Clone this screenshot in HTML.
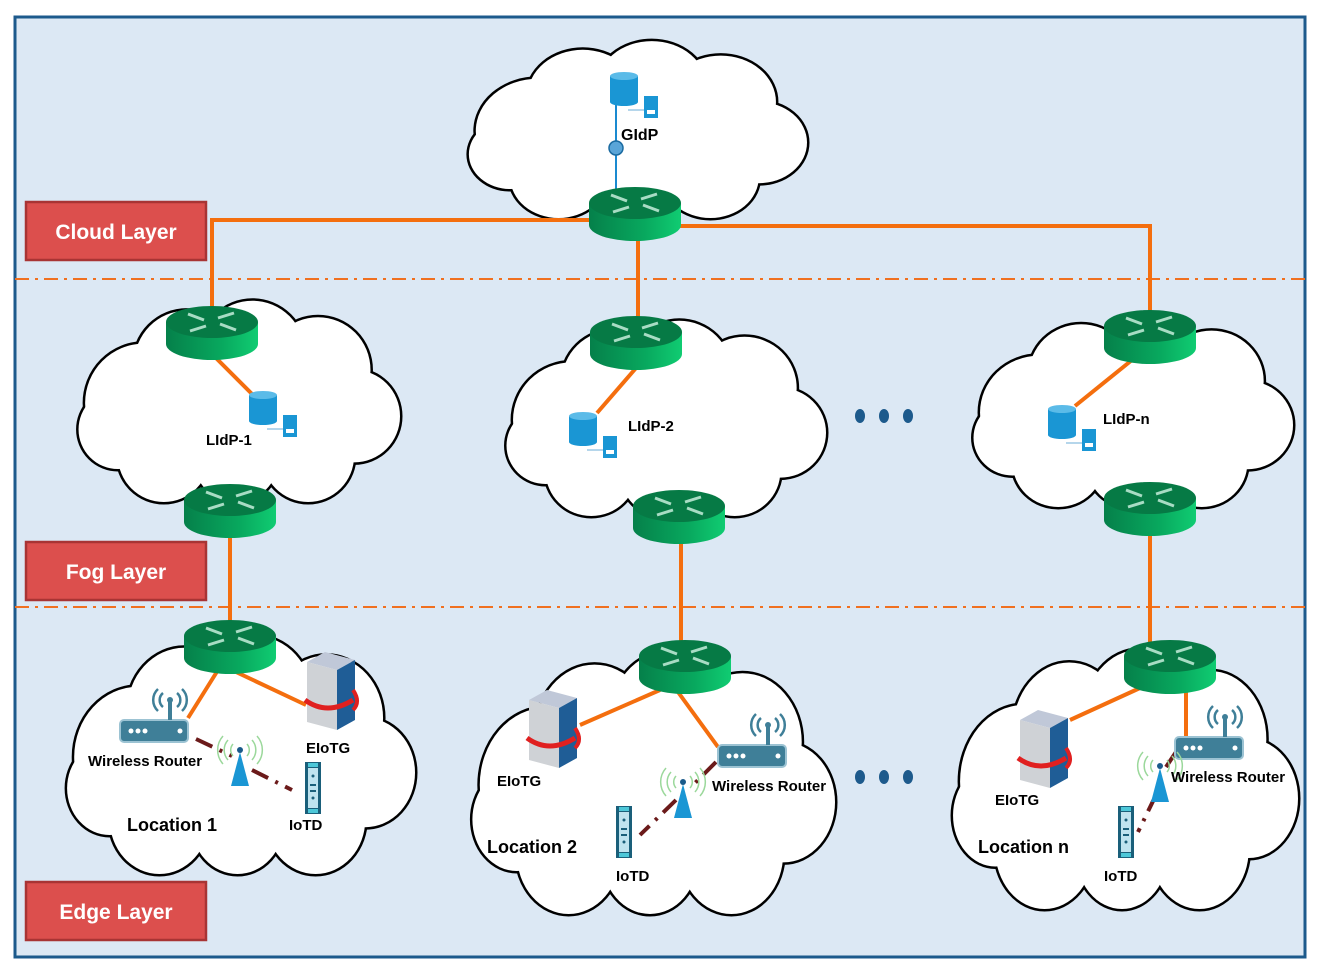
<!DOCTYPE html>
<html><head><meta charset="utf-8"><style>
html,body{margin:0;padding:0;background:#fff;}
svg{display:block;}
text{font-family:"Liberation Sans",sans-serif;font-weight:bold;}
</style></head><body>
<svg width="1319" height="972" viewBox="0 0 1319 972" xmlns="http://www.w3.org/2000/svg">
<defs>
<linearGradient id="rg" x1="0" x2="1" y1="0" y2="0"><stop offset="0" stop-color="#05804a"/><stop offset="0.6" stop-color="#08a85e"/><stop offset="1" stop-color="#10cc72"/></linearGradient>
<g id="cs" fill="none" stroke="#000" stroke-width="5">
<circle cx="22" cy="30" r="18" vector-effect="non-scaling-stroke"/><circle cx="35" cy="18" r="16" vector-effect="non-scaling-stroke"/><circle cx="55" cy="15" r="16" vector-effect="non-scaling-stroke"/><circle cx="75" cy="20" r="16" vector-effect="non-scaling-stroke"/><circle cx="86" cy="34" r="14" vector-effect="non-scaling-stroke"/><circle cx="72" cy="46" r="14" vector-effect="non-scaling-stroke"/><circle cx="50" cy="47" r="13" vector-effect="non-scaling-stroke"/><circle cx="28" cy="46" r="14" vector-effect="non-scaling-stroke"/><circle cx="14" cy="38" r="12" vector-effect="non-scaling-stroke"/>
</g>
<g id="cf" fill="#fff">
<circle cx="22" cy="30" r="18"/><circle cx="35" cy="18" r="16"/><circle cx="55" cy="15" r="16"/><circle cx="75" cy="20" r="16"/><circle cx="86" cy="34" r="14"/><circle cx="72" cy="46" r="14"/><circle cx="50" cy="47" r="13"/><circle cx="28" cy="46" r="14"/><circle cx="14" cy="38" r="12"/><circle cx="50" cy="30" r="22"/>
</g>
<g id="rt">
<path d="M-46,0 L-46,22 A46,16 0 0 0 46,22 L46,0 Z" fill="url(#rg)"/>
<ellipse cx="0" cy="0" rx="46" ry="16" fill="#067a45"/>
<g stroke="#a8dcc4" stroke-width="3" fill="#a8dcc4">
<line x1="-24" y1="-8" x2="-8" y2="-2"/><line x1="24" y1="8" x2="8" y2="2"/>
<line x1="-6" y1="4" x2="-22" y2="9"/><line x1="6" y1="-4" x2="22" y2="-9"/>
</g>
</g>
<g id="db">
<rect x="0" y="4" width="28" height="26" fill="#1a96d4"/>
<ellipse cx="14" cy="30" rx="14" ry="4" fill="#1a96d4"/>
<ellipse cx="14" cy="4" rx="14" ry="4" fill="#5bbbe8"/>
<rect x="34" y="24" width="14" height="22" fill="#1a96d4"/>
<rect x="37" y="38" width="8" height="4" fill="#fff"/>
<line x1="18" y1="38" x2="34" y2="38" stroke="#9cc8e4" stroke-width="1.5"/>
</g>
<g id="wr">
<rect x="0" y="0" width="68" height="22" rx="4" fill="#3f7f98" stroke="#9cc3d3" stroke-width="2"/>
<circle cx="11" cy="11" r="2.5" fill="#fff"/><circle cx="18" cy="11" r="2.5" fill="#fff"/><circle cx="25" cy="11" r="2.5" fill="#fff"/><circle cx="60" cy="11" r="2.5" fill="#fff"/>
<line x1="50" y1="0" x2="50" y2="-18" stroke="#3f7f98" stroke-width="4"/>
<circle cx="50" cy="-20" r="3" fill="#3f7f98"/>
<path d="M43,-27 A9,9 0 0 0 43,-13 M57,-27 A9,9 0 0 1 57,-13 M38,-31 A15,15 0 0 0 38,-9 M62,-31 A15,15 0 0 1 62,-9" fill="none" stroke="#3f7f98" stroke-width="2.5"/>
</g>
<g id="tw">
<polygon points="0,-34 -9,0 9,0" fill="#1a96d4"/>
<circle cx="0" cy="-36" r="3" fill="#1a5a8a"/>
<path d="M-7,-42 A9,9 0 0 0 -7,-30 M7,-42 A9,9 0 0 1 7,-30 M-12,-46 A15,15 0 0 0 -12,-26 M12,-46 A15,15 0 0 1 12,-26 M-17,-50 A21,21 0 0 0 -17,-22 M17,-50 A21,21 0 0 1 17,-22" fill="none" stroke="#9bd89b" stroke-width="1.5"/>
</g>
<g id="sv">
<polygon points="0,10 18,0 48,8 30,18" fill="#c0c8d8"/>
<polygon points="0,10 30,18 30,78 0,70" fill="#cfd2d6"/>
<polygon points="30,18 48,8 48,68 30,78" fill="#1f5d96"/>
<path d="M-2,48 Q20,64 46,48" fill="none" stroke="#e02020" stroke-width="5"/>
<path d="M46,38 Q54,50 46,58" fill="none" stroke="#e02020" stroke-width="4"/>
</g>
<g id="io">
<rect x="0" y="0" width="16" height="52" fill="#1a5f7a"/>
<rect x="3" y="6" width="10" height="40" fill="#bfe3ef"/>
<rect x="3" y="1" width="10" height="4" fill="#4dc7d8"/>
<rect x="3" y="47" width="10" height="4" fill="#4dc7d8"/>
<circle cx="8" cy="14" r="1.5" fill="#1a5f7a"/><rect x="5" y="22" width="6" height="2" fill="#1a5f7a"/><rect x="5" y="28" width="6" height="2" fill="#1a5f7a"/><circle cx="8" cy="36" r="1.5" fill="#1a5f7a"/>
</g>
</defs>

<rect x="0" y="0" width="1319" height="972" fill="#fff"/>
<rect x="15" y="17" width="1290" height="940" fill="#dce8f4" stroke="#1d5a8c" stroke-width="3"/>

<!-- clouds -->
<g transform="translate(462,44) scale(3.45,2.9)"><use href="#cs"/><use href="#cf"/></g>
<g transform="translate(72,304) scale(3.28,3.3)"><use href="#cs"/><use href="#cf"/></g>
<g transform="translate(500,324) scale(3.26,3.2)"><use href="#cs"/><use href="#cf"/></g>
<g transform="translate(967,318) scale(3.26,3.15)"><use href="#cs"/><use href="#cf"/></g>
<g transform="translate(60,640) scale(3.55,3.9)"><use href="#cs"/><use href="#cf"/></g>
<g transform="translate(465,656) scale(3.7,4.3)"><use href="#cs"/><use href="#cf"/></g>
<g transform="translate(946,654) scale(3.52,4.25)"><use href="#cs"/><use href="#cf"/></g>

<!-- layer separators -->
<line x1="15" y1="279" x2="1305" y2="279" stroke="#f07020" stroke-width="2" stroke-dasharray="14,6,3,6"/>
<line x1="15" y1="607" x2="1305" y2="607" stroke="#f07020" stroke-width="2" stroke-dasharray="14,6,3,6"/>

<!-- orange links -->
<g stroke="#f46e0e" stroke-width="4" fill="none">
<polyline points="600,220 212,220 212,310"/>
<polyline points="670,226 1150,226 1150,315"/>
<line x1="638" y1="235" x2="638" y2="322"/>
<line x1="230" y1="520" x2="230" y2="628"/>
<line x1="681" y1="525" x2="681" y2="648"/>
<line x1="1150" y1="520" x2="1150" y2="648"/>
<line x1="212" y1="354" x2="252" y2="394"/>
<line x1="636" y1="368" x2="597" y2="413"/>
<line x1="1132" y1="360" x2="1075" y2="406"/>
<line x1="218" y1="670" x2="188" y2="718"/>
<line x1="236" y1="672" x2="306" y2="705"/>
<line x1="660" y1="690" x2="580" y2="725"/>
<line x1="678" y1="692" x2="718" y2="747"/>
<line x1="1140" y1="688" x2="1070" y2="720"/>
<line x1="1186" y1="690" x2="1186" y2="740"/>
</g>

<!-- GIdP -->
<line x1="616" y1="100" x2="616" y2="190" stroke="#1a8ad0" stroke-width="2"/>
<circle cx="616" cy="148" r="7" fill="#5aa5d8" stroke="#1a6aa0" stroke-width="1.5"/>
<use href="#db" x="610" y="72"/>
<text x="621" y="140" font-size="16">GIdP</text>

<!-- routers -->
<use href="#rt" x="635" y="203"/>
<use href="#rt" x="212" y="322"/>
<use href="#rt" x="636" y="332"/>
<use href="#rt" x="1150" y="326"/>
<use href="#rt" x="230" y="500"/>
<use href="#rt" x="679" y="506"/>
<use href="#rt" x="1150" y="498"/>
<use href="#rt" x="230" y="636"/>
<use href="#rt" x="685" y="656"/>
<use href="#rt" x="1170" y="656"/>

<!-- fog DBs -->
<use href="#db" x="249" y="391"/><text x="206" y="445" font-size="15">LIdP-1</text>
<use href="#db" x="569" y="412"/><text x="628" y="431" font-size="15">LIdP-2</text>
<use href="#db" x="1048" y="405"/><text x="1103" y="424" font-size="15">LIdP-n</text>

<!-- dots -->
<g fill="#1d5a8c"><ellipse cx="860" cy="416" rx="5" ry="7"/><ellipse cx="884" cy="416" rx="5" ry="7"/><ellipse cx="908" cy="416" rx="5" ry="7"/>
<ellipse cx="860" cy="777" rx="5" ry="7"/><ellipse cx="884" cy="777" rx="5" ry="7"/><ellipse cx="908" cy="777" rx="5" ry="7"/></g>

<!-- wireless dashed links -->
<g stroke="#6b1a1a" stroke-width="4" stroke-dasharray="18,8,3,8" fill="none">
<line x1="196" y1="739" x2="232" y2="756"/><line x1="252" y1="770" x2="292" y2="790"/>
<line x1="716" y1="762" x2="692" y2="786"/><line x1="676" y1="800" x2="640" y2="835"/>
<line x1="1176" y1="752" x2="1164" y2="770"/><line x1="1156" y1="795" x2="1138" y2="832"/>
</g>

<!-- Edge 1 -->
<use href="#wr" x="120" y="720"/>
<use href="#tw" x="240" y="786"/>
<use href="#sv" x="307" y="652"/>
<use href="#io" x="305" y="762"/>
<text x="88" y="766" font-size="15">Wireless Router</text>
<text x="306" y="753" font-size="15">EIoTG</text>
<text x="289" y="830" font-size="15">IoTD</text>
<text x="127" y="831" font-size="18">Location 1</text>

<!-- Edge 2 -->
<use href="#sv" x="529" y="690"/>
<use href="#wr" x="718" y="745"/>
<use href="#tw" x="683" y="818"/>
<use href="#io" x="616" y="806"/>
<text x="497" y="786" font-size="15">EIoTG</text>
<text x="712" y="791" font-size="15">Wireless Router</text>
<text x="616" y="881" font-size="15">IoTD</text>
<text x="487" y="853" font-size="18">Location 2</text>

<!-- Edge n -->
<use href="#sv" x="1020" y="710"/>
<use href="#wr" x="1175" y="737"/>
<use href="#tw" x="1160" y="802"/>
<use href="#io" x="1118" y="806"/>
<text x="995" y="805" font-size="15">EIoTG</text>
<text x="1171" y="782" font-size="15">Wireless Router</text>
<text x="1104" y="881" font-size="15">IoTD</text>
<text x="978" y="853" font-size="18">Location n</text>

<!-- layer labels -->
<g>
<rect x="26" y="202" width="180" height="58" fill="#dc4f4d" stroke="#a83434" stroke-width="2.5"/>
<text x="116" y="239" font-size="21" fill="#fff" text-anchor="middle" font-weight="normal" style="font-weight:bold">Cloud Layer</text>
<rect x="26" y="542" width="180" height="58" fill="#dc4f4d" stroke="#a83434" stroke-width="2.5"/>
<text x="116" y="579" font-size="21" fill="#fff" text-anchor="middle">Fog Layer</text>
<rect x="26" y="882" width="180" height="58" fill="#dc4f4d" stroke="#a83434" stroke-width="2.5"/>
<text x="116" y="919" font-size="21" fill="#fff" text-anchor="middle">Edge Layer</text>
</g>
</svg>
</body></html>
